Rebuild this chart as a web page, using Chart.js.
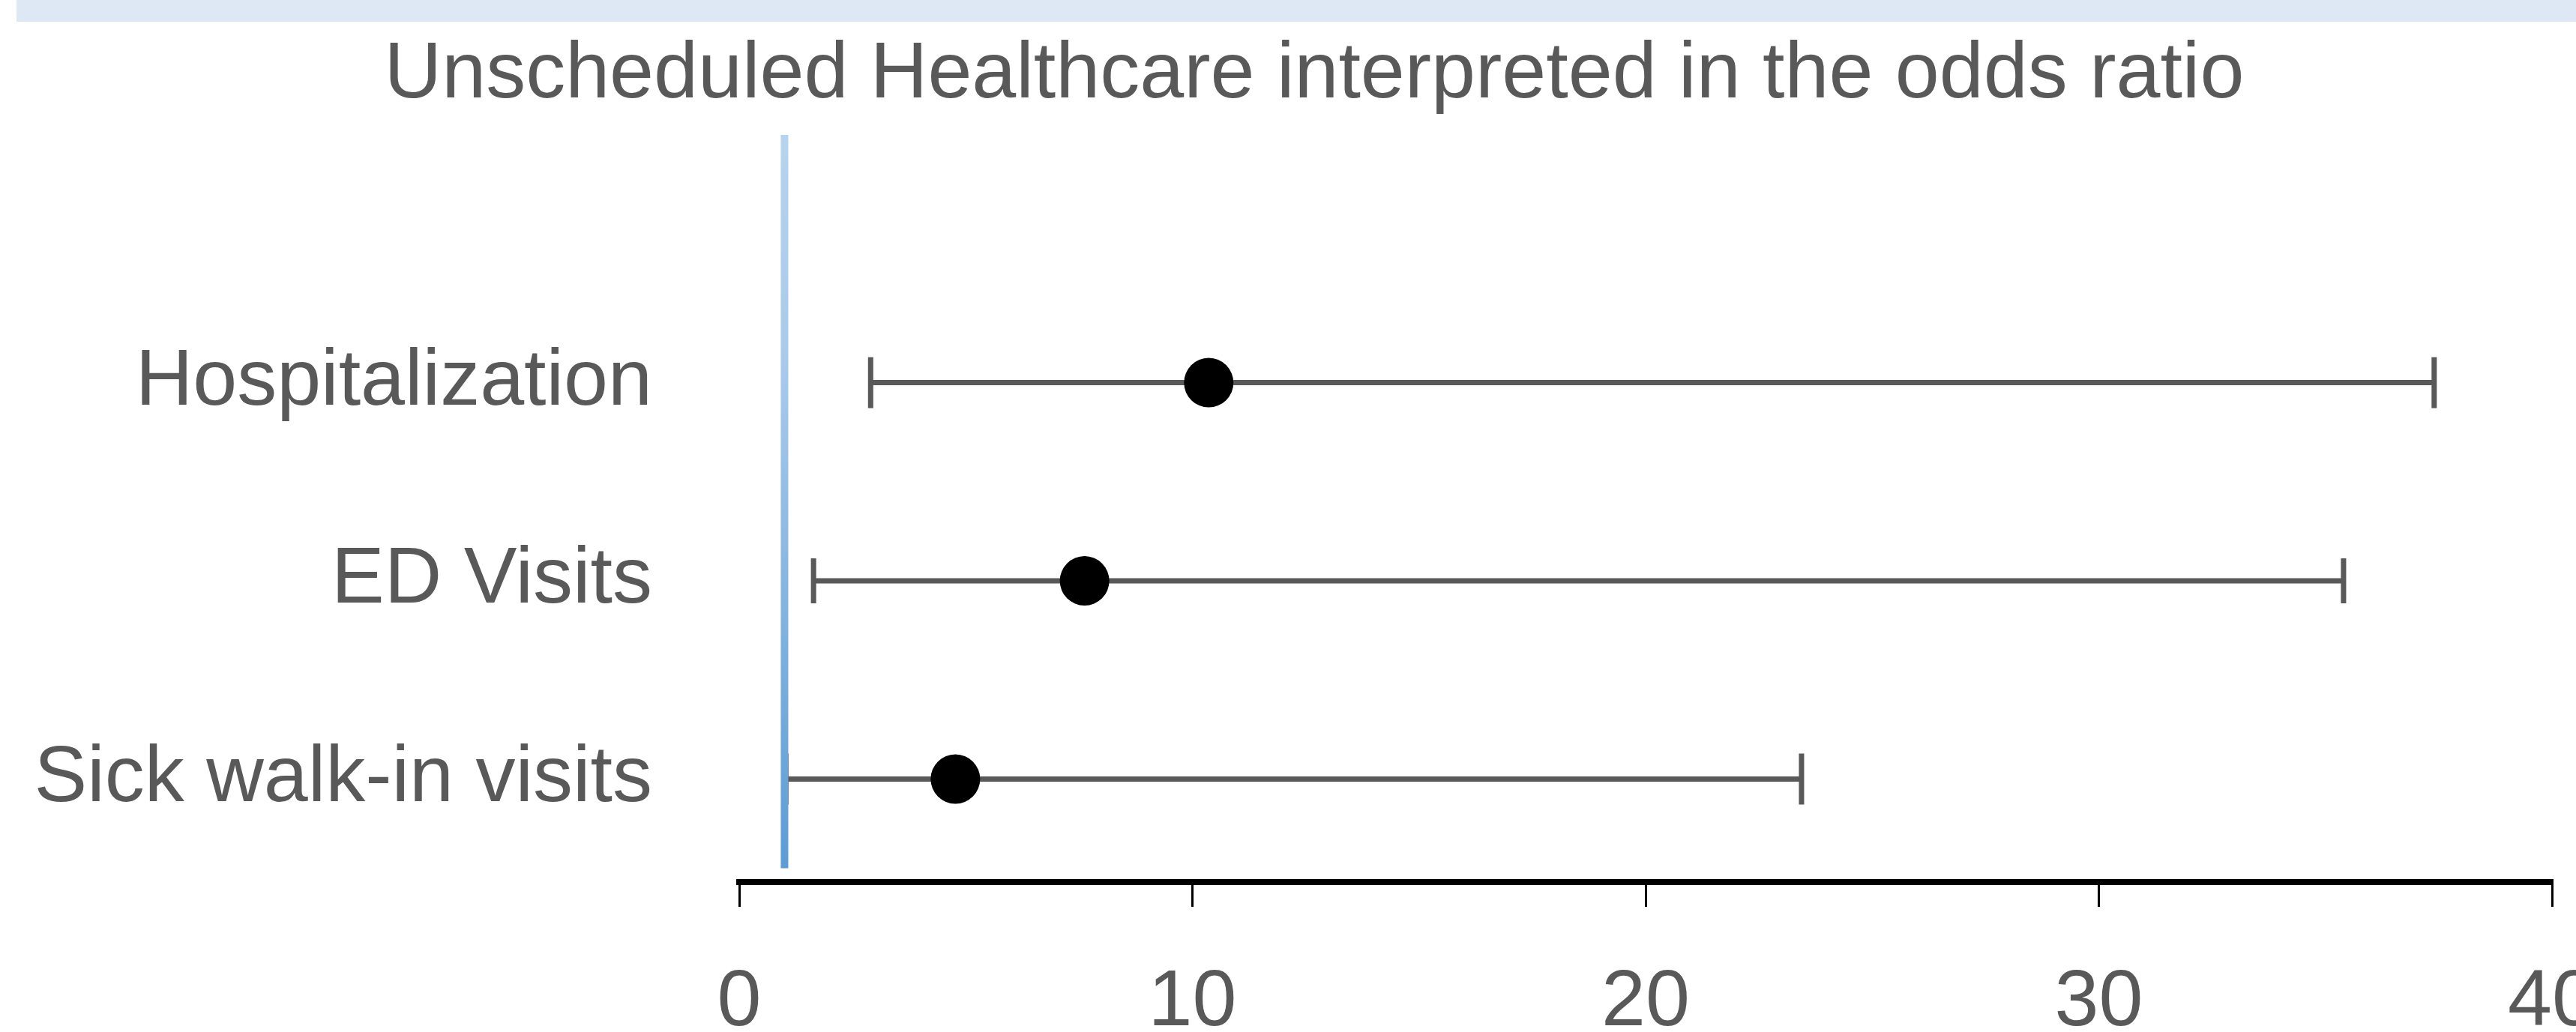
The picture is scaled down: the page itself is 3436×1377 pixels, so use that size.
<!DOCTYPE html>
<html>
<head>
<meta charset="utf-8">
<title>Unscheduled Healthcare interpreted in the odds ratio</title>
<script src="https://cdn.jsdelivr.net/npm/chart.js@4.4.1/dist/chart.umd.min.js"></script>
<style>
    html, body { margin: 0; padding: 0; background: #ffffff; overflow: hidden; }
    #band { position: absolute; left: 22px; top: 0; right: 0; height: 29px; background: #dde8f4; }
    #wrap { position: absolute; left: 0; top: 0; width: 3544px; height: 1377px; }
    #myChart { display: block; }
</style>
</head>
<body>
<div id="band"></div>
<div id="wrap"><canvas id="myChart" width="3544" height="1377"></canvas></div>
<script>
// rows, bottom to top
const categories = ['Sick walk-in visits', 'ED Visits', 'Hospitalization'];
const rowPositions = [1, 2, 3];
const oddsRatios = [4.77, 7.62, 10.36];
const ciLower = [1.03, 1.64, 2.9];
const ciUpper = [23.44, 35.4, 37.4];
const xTickValues = [0, 10, 20, 30, 40];
// reference line at OR = 1
const refLineX = [1, 1];
const refLineY = [0.55, 4.25];

const textColor = '#595959';
const fontFamily = "'Liberation Sans', Arial, sans-serif";
const capHalfHeight = [34, 30, 34];

// the y labels run past the left padding, so widen the clip box of that axis
const wideLabelArea = {
    id: 'wideLabelArea',
    afterLayout(chart) {
        chart.scales.y.left = 0;
    }
};

document.addEventListener('DOMContentLoaded', function() {
    const errorBars = categories.map((name, i) => ({
        label: name,
        data: [
            { x: ciLower[i], y: rowPositions[i] },
            { x: ciUpper[i], y: rowPositions[i] }
        ],
        showLine: true,
        borderColor: textColor,
        borderWidth: 7,
        pointStyle: 'line',
        pointRotation: 90,
        pointRadius: capHalfHeight[i],
        pointBorderWidth: 7,
        pointBorderColor: textColor,
        clip: false,
        order: 2
    }));

    const ctx = document.getElementById('myChart').getContext('2d');
    const chart = new Chart(ctx, {
        type: 'scatter',
        data: {
            datasets: [
                {
                    label: 'OR = 1',
                    data: refLineX.map((x, i) => ({ x: x, y: refLineY[i] })),
                    showLine: true,
                    borderWidth: 10,
                    borderColor: function(c) {
                        const area = c.chart.chartArea;
                        if (!area) return '#5b9bd5';
                        const g = c.chart.ctx.createLinearGradient(0, area.top, 0, area.bottom);
                        g.addColorStop(0, '#b6d3ef');
                        g.addColorStop(0.3, '#a9caeb');
                        g.addColorStop(1, '#5b9bd5');
                        return g;
                    },
                    pointRadius: 0,
                    clip: false,
                    order: 0
                },
                {
                    label: 'Odds ratio',
                    data: oddsRatios.map((v, i) => ({ x: v, y: rowPositions[i] })),
                    showLine: false,
                    pointStyle: 'circle',
                    pointRadius: 33,
                    pointBackgroundColor: '#000000',
                    pointBorderWidth: 0,
                    clip: false,
                    order: 1
                },
                ...errorBars
            ]
        },
        options: {
            responsive: false,
            animation: false,
            devicePixelRatio: 1,
            layout: {
                padding: { left: 102, right: 140, top: 0, bottom: 0 }
            },
            plugins: {
                legend: { display: false },
                tooltip: { enabled: false },
                title: {
                    display: true,
                    text: 'Unscheduled Healthcare interpreted in the odds ratio',
                    color: textColor,
                    font: { family: fontFamily, size: 106, weight: 'normal', lineHeight: 1 },
                    padding: { top: 48, bottom: 26 }
                }
            },
            scales: {
                x: {
                    type: 'linear',
                    min: 0,
                    max: 40,
                    afterBuildTicks: scale => {
                        scale.ticks = xTickValues.map(v => ({ value: v }));
                    },
                    afterFit: scale => {
                        scale.height = 200;
                    },
                    ticks: {
                        color: textColor,
                        font: { family: fontFamily, size: 106, lineHeight: 1 },
                        padding: 76,
                        maxRotation: 0,
                        autoSkip: false
                    },
                    grid: {
                        display: true,
                        drawOnChartArea: false,
                        drawTicks: true,
                        tickLength: 33,
                        color: '#000000',
                        lineWidth: 3
                    },
                    border: { display: true, color: '#000000', width: 8 }
                },
                y: {
                    type: 'linear',
                    min: 0.48,
                    max: 4.25,
                    afterBuildTicks: scale => {
                        scale.ticks = rowPositions.map(v => ({ value: v }));
                    },
                    afterFit: scale => {
                        scale.width = 884;
                    },
                    ticks: {
                        color: textColor,
                        font: { family: fontFamily, size: 106, lineHeight: 1 },
                        padding: 116,
                        callback: value => categories[rowPositions.indexOf(value)]
                    },
                    grid: { display: false, drawTicks: false },
                    border: { display: false }
                }
            }
        },
        plugins: [wideLabelArea]
    });
});
</script>
</body>
</html>
